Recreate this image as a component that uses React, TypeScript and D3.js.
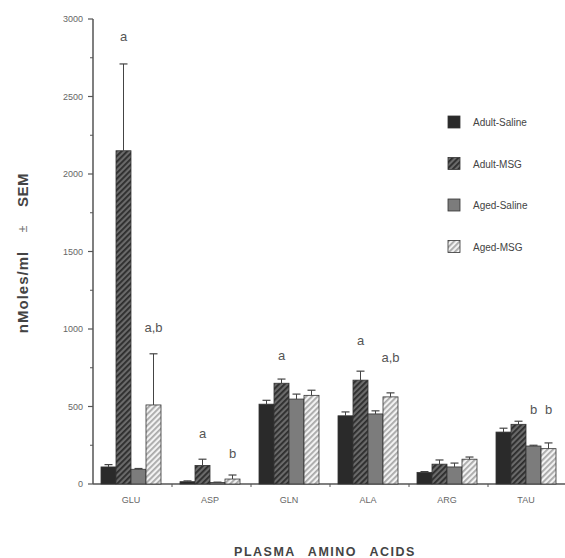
import { useEffect, useRef } from 'react'
import * as d3 from 'd3'

const categories = ['GLU', 'ASP', 'GLN', 'ALA', 'ARG', 'TAU']
const seriesNames = ['Adult-Saline', 'Adult-MSG', 'Aged-Saline', 'Aged-MSG']

// mean values per series, in category order
const adultSaline = [110, 15, 515, 440, 75, 335]
const adultMSG = [2150, 120, 650, 670, 128, 385]
const agedSaline = [95, 10, 548, 452, 110, 245]
const agedMSG = [510, 32, 572, 562, 160, 228]

// top of error bars (mean + SEM)
const adultSalineErr = [125, 20, 540, 465, 80, 360]
const adultMSGErr = [2710, 160, 677, 728, 155, 405]
const agedSalineErr = [100, 12, 580, 472, 135, 250]
const agedMSGErr = [840, 58, 605, 588, 174, 265]

const yTicks = [0, 500, 1000, 1500, 2000, 2500, 3000]
const yMinorTicks = [250, 750, 1250, 1750, 2250, 2750]

// significance letters: category, series index, text, height (data units)
const annotations: [string, number, string, number][] = [
  ['GLU', 1, 'a', 2860],
  ['GLU', 3, 'a,b', 980],
  ['ASP', 1, 'a', 300],
  ['ASP', 3, 'b', 170],
  ['GLN', 1, 'a', 800],
  ['ALA', 1, 'a', 900],
  ['ALA', 3, 'a,b', 790],
  ['TAU', 2, 'b', 450],
  ['TAU', 3, 'b', 450],
]

const fills = ['#2a2a2a', 'url(#hatchDark)', '#7c7c7c', 'url(#hatchLight)']
const font = 'Liberation Sans, Arial, sans-serif'

export default function App() {
  const svgRef = useRef<SVGSVGElement>(null)
  const width = 565
  const height = 558

  useEffect(() => {
    if (!svgRef.current) return
    const svg = d3.select(svgRef.current)
    svg.selectAll('*').remove()

    const left = 93
    const y = d3.scaleLinear().domain([0, 3000]).range([484, 19])
    const x = d3.scaleBand().domain(categories).range([left, left + 6 * 79]).paddingInner(0).paddingOuter(0)
    const inner = d3.scaleBand().domain(d3.range(4).map(String)).range([8, 68]).padding(0)

    const values = [adultSaline, adultMSG, agedSaline, agedMSG]
    const errs = [adultSalineErr, adultMSGErr, agedSalineErr, agedMSGErr]

    // hatch patterns
    const defs = svg.append('defs')
    const dark = defs.append('pattern').attr('id', 'hatchDark').attr('patternUnits', 'userSpaceOnUse')
      .attr('width', 4).attr('height', 4).attr('patternTransform', 'rotate(45)')
    dark.append('rect').attr('width', 4).attr('height', 4).attr('fill', '#6a6a6a')
    dark.append('rect').attr('width', 1.8).attr('height', 4).attr('fill', '#2c2c2c')
    const light = defs.append('pattern').attr('id', 'hatchLight').attr('patternUnits', 'userSpaceOnUse')
      .attr('width', 4).attr('height', 4).attr('patternTransform', 'rotate(45)')
    light.append('rect').attr('width', 4).attr('height', 4).attr('fill', '#f2f2f2')
    light.append('rect').attr('width', 1.8).attr('height', 4).attr('fill', '#a8a8a8')

    const axisColor = '#555'
    const textColor = '#666'

    // y axis
    svg.append('line').attr('x1', left).attr('x2', left).attr('y1', y(3000)).attr('y2', y(0))
      .attr('stroke', axisColor).attr('stroke-width', 1.5)
    svg.selectAll('.ymaj').data(yTicks).enter().append('line')
      .attr('x1', left - 5).attr('x2', left).attr('y1', d => y(d)).attr('y2', d => y(d))
      .attr('stroke', axisColor).attr('stroke-width', 1.2)
    svg.selectAll('.ymin').data(yMinorTicks).enter().append('line')
      .attr('x1', left - 3).attr('x2', left).attr('y1', d => y(d)).attr('y2', d => y(d))
      .attr('stroke', axisColor).attr('stroke-width', 1)
    svg.selectAll('.ylab').data(yTicks).enter().append('text')
      .attr('x', left - 10).attr('y', d => y(d) + 3)
      .attr('text-anchor', 'end').attr('font-size', 9).attr('fill', textColor)
      .attr('font-family', font)
      .text(d => d)

    // x axis
    svg.append('line').attr('x1', left).attr('x2', 565).attr('y1', y(0)).attr('y2', y(0))
      .attr('stroke', axisColor).attr('stroke-width', 1.5)
    svg.selectAll('.xtick').data(categories).enter().append('line')
      .attr('x1', d => (x(d) as number) + x.bandwidth()).attr('x2', d => (x(d) as number) + x.bandwidth())
      .attr('y1', y(0)).attr('y2', y(0) + 3)
      .attr('stroke', axisColor).attr('stroke-width', 1)
    svg.selectAll('.xlab').data(categories).enter().append('text')
      .attr('x', d => (x(d) as number) + 38).attr('y', 503)
      .attr('text-anchor', 'middle').attr('font-size', 9).attr('fill', textColor)
      .attr('font-family', font)
      .text(d => d)

    // bars
    values.forEach((vals, si) => {
      const g = svg.append('g')
      const bx = (i: number) => (x(categories[i]) as number) + (inner(String(si)) as number)
      const bw = inner.bandwidth()
      g.selectAll('rect').data(vals).enter().append('rect')
        .attr('x', (_, i) => bx(i)).attr('y', d => y(d))
        .attr('width', bw).attr('height', d => y(0) - y(d))
        .attr('fill', fills[si]).attr('stroke', '#333').attr('stroke-width', 0.8)
      g.selectAll('line.err').data(errs[si]).enter().append('line')
        .attr('x1', (_, i) => bx(i) + bw / 2).attr('x2', (_, i) => bx(i) + bw / 2)
        .attr('y1', (_, i) => y(vals[i])).attr('y2', d => y(d))
        .attr('stroke', '#444').attr('stroke-width', 1)
      g.selectAll('line.cap').data(errs[si]).enter().append('line')
        .attr('x1', (_, i) => bx(i) + bw / 2 - 4).attr('x2', (_, i) => bx(i) + bw / 2 + 4)
        .attr('y1', d => y(d)).attr('y2', d => y(d))
        .attr('stroke', '#444').attr('stroke-width', 1.2)
    })

    // significance letters
    svg.selectAll('.ann').data(annotations).enter().append('text')
      .attr('x', d => (x(d[0]) as number) + (inner(String(d[1])) as number) + inner.bandwidth() / 2)
      .attr('y', d => y(d[3]))
      .attr('text-anchor', 'middle').attr('font-size', 13).attr('fill', '#555')
      .attr('font-family', font)
      .text(d => d[2])

    // legend
    const legend = svg.append('g').attr('transform', 'translate(448,116)')
    seriesNames.forEach((name, i) => {
      const ly = i * 41.5
      legend.append('rect').attr('x', 0).attr('y', ly).attr('width', 12).attr('height', 12)
        .attr('fill', fills[i]).attr('stroke', '#333').attr('stroke-width', 0.8)
      legend.append('text').attr('x', 25).attr('y', ly + 10)
        .attr('font-size', 10).attr('fill', '#444')
        .attr('font-family', font)
        .text(name)
    })

    // y axis title, in three pieces to keep the wide gaps
    const yTitle = svg.append('g').attr('transform', 'translate(28,0) rotate(-90)')
    yTitle.append('text').attr('x', -292).attr('y', 0)
      .attr('text-anchor', 'middle').attr('font-size', 15).attr('font-weight', 'bold')
      .attr('letter-spacing', 1).attr('fill', '#444').attr('font-family', font)
      .text('nMoles/ml')
    yTitle.append('text').attr('x', -229).attr('y', -1)
      .attr('text-anchor', 'middle').attr('font-size', 12)
      .attr('fill', '#777').attr('font-family', font)
      .text('\u00b1')
    yTitle.append('text').attr('x', -190).attr('y', 0)
      .attr('text-anchor', 'middle').attr('font-size', 15).attr('font-weight', 'bold')
      .attr('letter-spacing', 0.5).attr('fill', '#444').attr('font-family', font)
      .text('SEM')

    svg.append('text')
      .attr('x', 325).attr('y', 556)
      .attr('text-anchor', 'middle').attr('font-size', 12.5).attr('font-weight', 'bold')
      .attr('letter-spacing', 1.5).attr('word-spacing', 8)
      .attr('fill', '#444').attr('font-family', font)
      .text('PLASMA AMINO ACIDS')
  }, [])

  return (
    <svg ref={svgRef} width={width} height={height}
      style={{ position: 'absolute', left: 0, top: 0, background: '#fff' }} />
  )
}
